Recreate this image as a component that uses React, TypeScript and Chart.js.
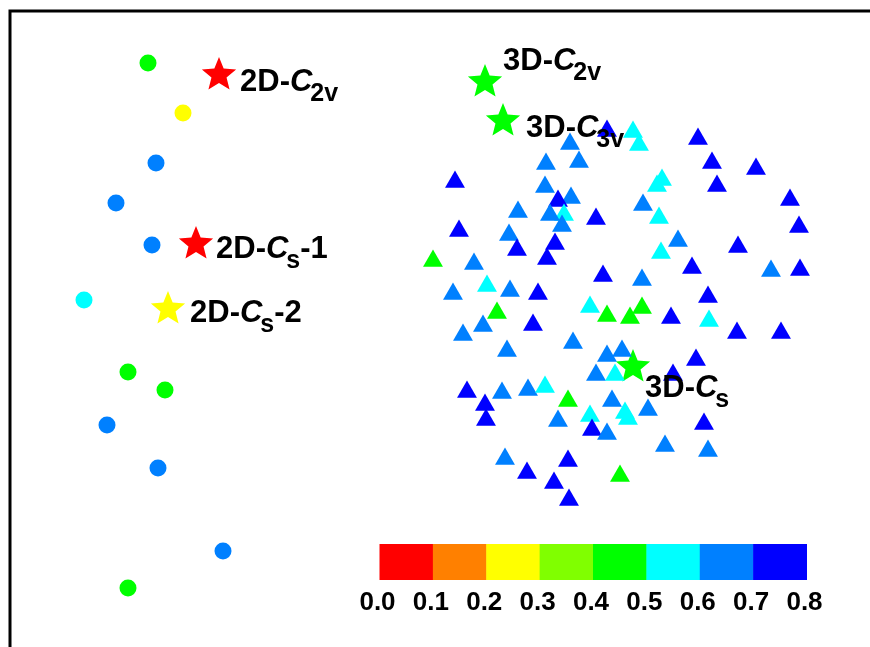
import React, { useEffect, useRef } from "react";
import { Chart, registerables } from "chart.js";
Chart.register(...registerables);

// Colour scale (value bins) and tick labels
const colorLevels = [0.0, 0.1, 0.2, 0.3, 0.4, 0.5, 0.6, 0.7, 0.8];
const levelColors = ["#FF0000", "#FF8000", "#FFFF00", "#80FF00", "#00FF00", "#00FFFF", "#0080FF", "#0000FF"];
const tickLabels = ["0.0", "0.1", "0.2", "0.3", "0.4", "0.5", "0.6", "0.7", "0.8"];

// 2D structures (circles)
const circleX = [148, 183, 156, 116, 152, 84, 128, 165, 107, 158, 223, 128];
const circleY = [63, 113, 163, 203, 245, 300, 372, 390, 425, 468, 551, 588];
const circleValue = [0.45, 0.25, 0.65, 0.65, 0.65, 0.55, 0.45, 0.45, 0.65, 0.65, 0.65, 0.45];

// 3D structures (triangles)
const triX = [607, 633, 639, 698, 570, 712, 756, 546, 579, 455, 717, 662, 657, 545, 571, 558, 790, 643, 518, 564, 550, 562, 596, 659, 799, 459, 509, 678, 555, 517, 738, 661, 547, 433, 474, 692, 771, 800, 603, 642, 487, 453, 510, 538, 708, 590, 642, 630, 607, 671, 709, 497, 483, 533, 463, 737, 781, 573, 507, 622, 607, 696, 596, 615, 673, 467, 502, 528, 545, 485, 486, 568, 612, 625, 628, 590, 648, 558, 592, 607, 704, 665, 708, 505, 568, 527, 620, 554, 569];
const triY = [131, 132, 145, 139, 144, 163, 169, 164, 162, 182, 186, 180, 186, 187, 198, 201, 200, 205, 212, 215, 215, 226, 219, 218, 227, 231, 235, 241, 244, 250, 247, 253, 259, 261, 264, 268, 271, 270, 276, 280, 286, 294, 291, 294, 297, 307, 308, 318, 316, 318, 321, 313, 326, 325, 335, 333, 333, 343, 351, 351, 356, 360, 375, 375, 375, 392, 393, 390, 387, 405, 420, 401, 401, 413, 419, 416, 410, 421, 430, 434, 424, 446, 451, 459, 461, 473, 476, 483, 500];
const triValue = [0.75, 0.55, 0.55, 0.75, 0.65, 0.75, 0.75, 0.65, 0.65, 0.75, 0.75, 0.55, 0.55, 0.65, 0.65, 0.75, 0.75, 0.65, 0.65, 0.55, 0.65, 0.65, 0.75, 0.55, 0.75, 0.75, 0.65, 0.65, 0.75, 0.75, 0.75, 0.55, 0.75, 0.45, 0.65, 0.75, 0.65, 0.75, 0.75, 0.65, 0.55, 0.65, 0.65, 0.75, 0.75, 0.55, 0.45, 0.45, 0.45, 0.75, 0.55, 0.45, 0.65, 0.75, 0.65, 0.75, 0.75, 0.65, 0.65, 0.65, 0.65, 0.75, 0.65, 0.55, 0.75, 0.75, 0.65, 0.65, 0.55, 0.75, 0.75, 0.45, 0.65, 0.55, 0.55, 0.55, 0.65, 0.65, 0.75, 0.65, 0.75, 0.65, 0.65, 0.65, 0.75, 0.75, 0.45, 0.75, 0.75];

// Reference structures (stars)
const starX = [219, 196, 168, 485, 503, 633];
const starY = [75, 244, 309, 82, 121, 367];
const starValue = [0.05, 0.05, 0.25, 0.45, 0.45, 0.45];
const starPrefix = ["2D-", "2D-", "2D-", "3D-", "3D-", "3D-"];
const starSymbol = ["C", "C", "C", "C", "C", "C"];
const starSub = ["2v", "s", "s", "2v", "3v", "s"];
const starSuffix = ["", "-1", "-2", "", "", ""];

// layout of labels relative to star (pixels)
const labelOffsets = [
  [21, 16], [20, 14], [22, 13], [18, -12], [23, 16], [12, 30],
];

function colorFor(v: number): string {
  let i = Math.floor(v / 0.1 + 1e-9);
  if (i < 0) i = 0;
  if (i > levelColors.length - 1) i = levelColors.length - 1;
  return levelColors[i];
}

function makeStar(color: string, R: number): HTMLCanvasElement {
  const s = Math.ceil(2 * R + 2);
  const c = document.createElement("canvas");
  c.width = s;
  c.height = s;
  const ctx = c.getContext("2d")!;
  const cx = s / 2;
  const cy = s / 2;
  const r = R * 0.44;
  ctx.beginPath();
  for (let k = 0; k < 10; k++) {
    const ang = -Math.PI / 2 + (k * Math.PI) / 5;
    const rr = k % 2 === 0 ? R : r;
    const x = cx + rr * Math.cos(ang);
    const y = cy + rr * Math.sin(ang);
    if (k === 0) ctx.moveTo(x, y);
    else ctx.lineTo(x, y);
  }
  ctx.closePath();
  ctx.fillStyle = color;
  ctx.fill();
  return c;
}

const FONT = '"Liberation Sans", Arial, Helvetica, sans-serif';

export default function App() {
  const ref = useRef<HTMLCanvasElement | null>(null);
  useEffect(() => {
    if (!ref.current) return;
    const starImgs = starValue.map((v) => makeStar(colorFor(v), 18));

    const decor = {
      id: "decor",
      beforeDatasetsDraw(chart: any) {
        const ctx = chart.ctx;
        const xs = chart.scales.x;
        const ys = chart.scales.y;
        ctx.save();
        // frame (top and left edges)
        ctx.strokeStyle = "#000";
        ctx.lineWidth = 3;
        ctx.beginPath();
        ctx.moveTo(xs.getPixelForValue(10), chart.height + 5);
        ctx.lineTo(xs.getPixelForValue(10), ys.getPixelForValue(11));
        ctx.lineTo(chart.width + 5, ys.getPixelForValue(11));
        ctx.stroke();
        // colour bar
        const x0 = xs.getPixelForValue(379.5);
        const x1 = xs.getPixelForValue(806.5);
        const y0 = ys.getPixelForValue(544);
        const y1 = ys.getPixelForValue(580);
        const n = levelColors.length;
        const w = (x1 - x0) / n;
        for (let i = 0; i < n; i++) {
          ctx.fillStyle = levelColors[i];
          ctx.fillRect(x0 + i * w, y0, w + 0.5, y1 - y0);
        }
        ctx.fillStyle = "#000";
        ctx.font = `bold 26px ${FONT}`;
        ctx.textAlign = "center";
        ctx.textBaseline = "alphabetic";
        for (let i = 0; i < colorLevels.length; i++) {
          ctx.fillText(tickLabels[i], x0 + i * w - 2, ys.getPixelForValue(610));
        }
        ctx.restore();
      },
      afterDatasetsDraw(chart: any) {
        const ctx = chart.ctx;
        const meta = chart.getDatasetMeta(2);
        ctx.save();
        ctx.fillStyle = "#000";
        ctx.textAlign = "left";
        ctx.textBaseline = "alphabetic";
        meta.data.forEach((el: any, i: number) => {
          let x = el.x + labelOffsets[i][0];
          const y = el.y + labelOffsets[i][1];
          ctx.font = `bold 31px ${FONT}`;
          ctx.fillText(starPrefix[i], x, y);
          x += ctx.measureText(starPrefix[i]).width;
          ctx.font = `italic bold 31px ${FONT}`;
          ctx.fillText(starSymbol[i], x, y);
          x += ctx.measureText(starSymbol[i]).width - 2;
          ctx.font = `bold 25px ${FONT}`;
          ctx.fillText(starSub[i], x, y + 10);
          x += ctx.measureText(starSub[i]).width;
          ctx.font = `bold 31px ${FONT}`;
          ctx.fillText(starSuffix[i], x, y);
        });
        ctx.restore();
      },
    };

    const chart = new Chart(ref.current, {
      type: "scatter",
      data: {
        datasets: [
          {
            label: "2D",
            data: circleX.map((x, i) => ({ x, y: circleY[i] })),
            pointStyle: "circle",
            pointRadius: 8.5,
            backgroundColor: circleValue.map(colorFor),
            borderColor: circleValue.map(colorFor),
            borderWidth: 0,
          },
          {
            label: "3D",
            data: triX.map((x, i) => ({ x, y: triY[i] })),
            pointStyle: "triangle",
            pointRadius: 11.5,
            backgroundColor: triValue.map(colorFor),
            borderColor: triValue.map(colorFor),
            borderWidth: 0,
          },
          {
            label: "ref",
            data: starX.map((x, i) => ({ x, y: starY[i] })),
            pointStyle: starImgs as any,
            pointRadius: 18,
            backgroundColor: starValue.map(colorFor),
            borderWidth: 0,
          },
        ],
      },
      options: {
        animation: false,
        responsive: false,
        layout: { padding: 0, autoPadding: false },
        plugins: { legend: { display: false }, tooltip: { enabled: false } },
        scales: {
          x: { type: "linear", min: 0, max: 870, display: false },
          y: { type: "linear", min: 0, max: 647, reverse: true, display: false },
        },
      },
      plugins: [decor],
    });
    return () => chart.destroy();
  }, []);

  return (
    <div style={{ position: "absolute", left: 0, top: 0, width: 870, height: 647, background: "#fff" }}>
      <canvas ref={ref} width={870} height={647} style={{ display: "block" }} />
    </div>
  );
}
